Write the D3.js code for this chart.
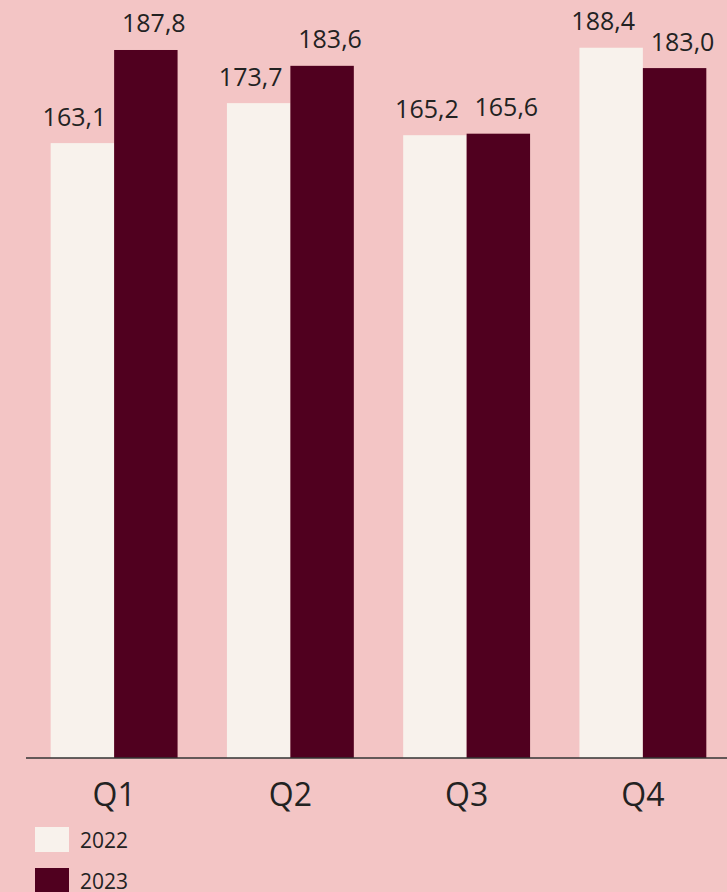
<!DOCTYPE html>
<html>
<head>
<meta charset="utf-8">
<script src="https://cdn.jsdelivr.net/npm/d3@7"></script>
<style>
  html, body { margin: 0; padding: 0; background: #f3c5c5; }
  svg { display: block; font-family: "Open Sans", sans-serif; }
</style>
</head>
<body>
<div id="chart"></div>
<script>
// quarters and the two years
const quarters = ['Q1', 'Q2', 'Q3', 'Q4'];
const years = ['2022', '2023'];
const values2022 = [163.1, 173.7, 165.2, 188.4];
const values2023 = [187.8, 183.6, 165.6, 183.0];
const yearColors = ['#f8f2ec', '#50001f'];

function makeBars(htmlId) {
  const width = 727;
  const height = 892;

  const svg = d3.select(`#${htmlId}`)
    .append('svg')
    .attr('width', width)
    .attr('height', height);

  svg.append('rect')
    .attr('width', width)
    .attr('height', height)
    .attr('fill', '#f3c5c5');

  // rows: one per quarter, one value per year
  const rows = quarters.map((q, i) => ({q: q, vals: [values2022[i], values2023[i]]}));

  const x0 = d3.scaleBand()
    .domain(quarters)
    .range([26, 731])
    .paddingInner(0.28)
    .paddingOuter(0.14);

  const x1 = d3.scaleBand()
    .domain(years)
    .range([0, x0.bandwidth()]);

  const y = d3.scaleLinear()
    .domain([0, 200])
    .range([758, 4]);

  const color = d3.scaleOrdinal().domain(years).range(yearColors);

  const groups = svg.selectAll('g.grp')
    .data(rows)
    .enter()
    .append('g')
    .attr('class', 'grp')
    .attr('transform', d => `translate(${x0(d.q)},0)`);

  const bars = groups.selectAll('g.bar')
    .data(d => years.map((yr, j) => ({year: yr, value: d.vals[j], side: j === 0 ? -1 : 1})))
    .enter()
    .append('g')
    .attr('class', 'bar');

  bars.append('rect')
    .attr('x', d => x1(d.year))
    .attr('y', d => y(d.value))
    .attr('width', x1.bandwidth())
    .attr('height', d => y(0) - y(d.value))
    .attr('fill', d => color(d.year));

  // value labels above the bars, comma decimal, nudged a bit outward so pairs don't touch
  bars.append('text')
    .attr('x', d => x1(d.year) + x1.bandwidth() / 2 + d.side * 8)
    .attr('y', d => y(d.value) - 17.5)
    .attr('text-anchor', 'middle')
    .attr('font-size', '25px')
    .attr('fill', '#222')
    .text(d => d.value.toFixed(1).replace('.', ','));

  // x axis, just the baseline and category labels
  const xAxis = svg.append('g')
    .attr('transform', `translate(0,${y(0)})`)
    .call(d3.axisBottom(x0).tickSize(0).tickPadding(0));
  xAxis.select('.domain')
    .attr('d', `M26,0H${width}`)
    .attr('stroke', '#333')
    .attr('stroke-width', 1.5);
  xAxis.selectAll('.tick text')
    .attr('y', 48)
    .attr('dy', null)
    .attr('font-family', '"Open Sans", sans-serif')
    .attr('font-size', '32px')
    .attr('fill', '#222');

  // legend bottom left
  const legend = svg.selectAll('g.leg')
    .data(years)
    .enter()
    .append('g')
    .attr('class', 'leg')
    .attr('transform', (d, i) => `translate(35,${827 + i * 41})`);

  legend.append('rect')
    .attr('width', 34)
    .attr('height', 25)
    .attr('fill', d => color(d));

  legend.append('text')
    .attr('x', 45)
    .attr('y', 21)
    .attr('font-size', '21px')
    .attr('fill', '#222')
    .text(d => d);
}

makeBars('chart');
</script>
</body>
</html>
